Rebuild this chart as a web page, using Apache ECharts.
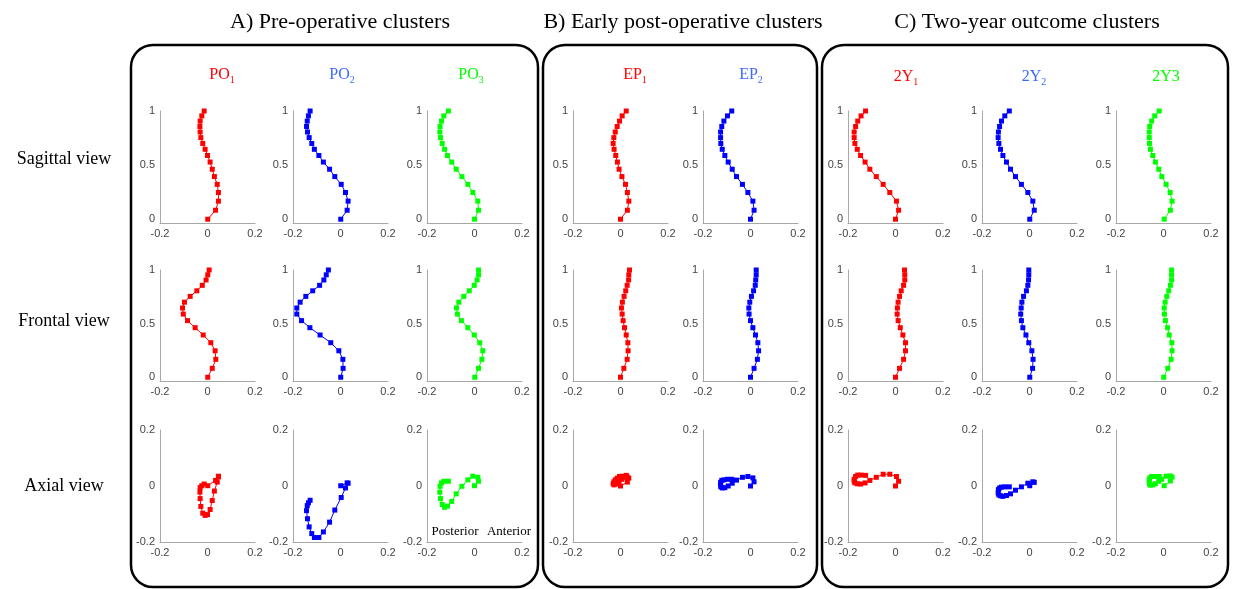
<!DOCTYPE html>
<html>
<head>
<meta charset="utf-8">
<script src="https://cdn.jsdelivr.net/npm/echarts@6/dist/echarts.min.js"></script>
<style>
  html, body { margin: 0; padding: 0; background: #fff; }
  #chart { width: 1236px; height: 589px; }
</style>
</head>
<body>
<div id="chart"></div>
<script>
// height levels of the 17 vertebra points (shared by every curve)
var levels = [0, 0.083, 0.167, 0.247, 0.322, 0.394, 0.462, 0.528, 0.589, 0.646, 0.700, 0.754, 0.806, 0.857, 0.907, 0.955, 1];

// sagittal-view offsets (bottom to top)
var sagPO1 = [0.001, 0.034, 0.046, 0.046, 0.041, 0.029, 0.020, 0.011, 0.000, -0.010, -0.020, -0.028, -0.031, -0.032, -0.031, -0.024, -0.014];
var sagPO2 = [0.001, 0.028, 0.032, 0.021, 0.003, -0.024, -0.046, -0.072, -0.091, -0.110, -0.121, -0.132, -0.139, -0.143, -0.140, -0.135, -0.128];
var sagPO3 = [0.000, 0.017, 0.014, -0.007, -0.028, -0.053, -0.077, -0.096, -0.114, -0.126, -0.136, -0.143, -0.146, -0.145, -0.139, -0.129, -0.110];
var sagEP1 = [0.000, 0.029, 0.035, 0.029, 0.021, 0.006, -0.006, -0.013, -0.020, -0.027, -0.031, -0.028, -0.022, -0.014, -0.004, 0.007, 0.024];
var sagEP2 = [0.000, 0.015, 0.010, -0.011, -0.034, -0.059, -0.077, -0.094, -0.108, -0.119, -0.125, -0.126, -0.126, -0.121, -0.112, -0.097, -0.079];
var sag2Y1 = [0.000, 0.013, 0.004, -0.024, -0.052, -0.081, -0.108, -0.128, -0.147, -0.161, -0.171, -0.174, -0.174, -0.168, -0.159, -0.145, -0.126];
var sag2Y2 = [0.001, 0.020, 0.014, -0.007, -0.034, -0.059, -0.080, -0.097, -0.112, -0.122, -0.129, -0.132, -0.131, -0.126, -0.118, -0.104, -0.085];
var sag2Y3 = [0.003, 0.029, 0.036, 0.028, 0.011, -0.007, -0.020, -0.034, -0.045, -0.055, -0.059, -0.060, -0.060, -0.058, -0.050, -0.037, -0.018];

// frontal-view offsets (bottom to top)
var froPO1 = [0.001, 0.020, 0.035, 0.032, 0.014, -0.018, -0.052, -0.084, -0.102, -0.105, -0.097, -0.073, -0.045, -0.022, -0.006, 0.001, 0.007];
var froPO2 = [0.001, 0.011, 0.010, -0.007, -0.041, -0.086, -0.129, -0.164, -0.184, -0.184, -0.170, -0.146, -0.117, -0.088, -0.070, -0.060, -0.051];
var froPO3 = [0.001, 0.017, 0.031, 0.035, 0.022, -0.001, -0.028, -0.055, -0.072, -0.076, -0.066, -0.045, -0.022, -0.001, 0.011, 0.017, 0.017];
var froEP1 = [0.000, 0.014, 0.028, 0.032, 0.031, 0.024, 0.017, 0.011, 0.007, 0.004, 0.008, 0.015, 0.022, 0.028, 0.034, 0.035, 0.038];
var froEP2 = [0.000, 0.015, 0.029, 0.034, 0.031, 0.021, 0.010, 0.000, -0.006, -0.007, -0.003, 0.004, 0.013, 0.020, 0.022, 0.024, 0.024];
var fro2Y1 = [0.000, 0.017, 0.034, 0.042, 0.042, 0.031, 0.020, 0.011, 0.007, 0.008, 0.011, 0.017, 0.024, 0.034, 0.039, 0.039, 0.038];
var fro2Y2 = [0.001, 0.013, 0.015, 0.010, -0.003, -0.015, -0.028, -0.034, -0.037, -0.035, -0.032, -0.025, -0.013, -0.007, -0.004, -0.003, -0.003];
var fro2Y3 = [0.001, 0.018, 0.032, 0.036, 0.035, 0.024, 0.017, 0.008, 0.004, 0.003, 0.007, 0.014, 0.022, 0.029, 0.034, 0.034, 0.034];

var clusterNames = [['PO', '1'], ['PO', '2'], ['PO', '3'], ['EP', '1'], ['EP', '2'], ['2Y', '1'], ['2Y', '2'], ['2Y3', '']];
var sagittal = [sagPO1, sagPO2, sagPO3, sagEP1, sagEP2, sag2Y1, sag2Y2, sag2Y3];
var frontal = [froPO1, froPO2, froPO3, froEP1, froEP2, fro2Y1, fro2Y2, fro2Y3];
var rowNames = ['Sagittal view', 'Frontal view', 'Axial view'];
var panelTitles = ['A) Pre-operative clusters', 'B) Early post-operative clusters', 'C) Two-year outcome clusters'];

// layout
var RED = '#ff0000', BLUE = '#0000ff', GREEN = '#00ff00';
var lineColors = [RED, BLUE, GREEN, RED, BLUE, RED, BLUE, GREEN];
var labelColors = [RED, '#3d68ff', GREEN, RED, '#3d68ff', RED, '#3d68ff', GREEN];
var colLeft = [160, 293, 427, 573, 703, 848, 982, 1116];
var labelX = [222, 342, 471, 635, 751, 906, 1034, 1166];
var rows = [
  { top: 111, height: 112, min: -0.035, max: 1 },
  { top: 270, height: 111, min: -0.035, max: 1 },
  { top: 430, height: 112, min: -0.2, max: 0.2 }
];

var SERIF = '"Liberation Serif", "Times New Roman", serif';
var SANS = '"Liberation Sans", Arial, sans-serif';

var grids = [], xAxes = [], yAxes = [], series = [];

rows.forEach(function (row, r) {
  colLeft.forEach(function (left, c) {
    var idx = grids.length;
    grids.push({ left: left, top: row.top, width: 95, height: row.height, outerBoundsMode: 'none' });
    xAxes.push({
      gridIndex: idx, type: 'value', min: -0.2, max: 0.2, interval: 0.2,
      splitLine: { show: false },
      axisLine: { onZero: false, lineStyle: { color: '#a8a8a8', width: 1 } },
      axisTick: { show: false },
      axisLabel: { color: '#444', fontSize: 11, fontFamily: SANS, margin: 5, showMinLabel: true, showMaxLabel: true, hideOverlap: false }
    });
    var yAxis = {
      gridIndex: idx, type: 'value', min: row.min, max: row.max,
      splitLine: { show: false },
      axisLine: { onZero: false, lineStyle: { color: '#a8a8a8', width: 1 } },
      axisTick: { show: false },
      axisLabel: { color: '#444', fontSize: 11, fontFamily: SANS, margin: 5, showMinLabel: true, showMaxLabel: true, hideOverlap: false }
    };
    if (r < 2) {
      yAxis.axisLabel.customValues = [0, 0.5, 1];
    } else {
      yAxis.interval = 0.2;
    }
    yAxes.push(yAxis);

    var data;
    if (r === 0) {
      data = sagittal[c].map(function (v, i) { return [v, levels[i]]; });
    } else if (r === 1) {
      data = frontal[c].map(function (v, i) { return [v, levels[i]]; });
    } else {
      data = sagittal[c].map(function (v, i) { return [v, frontal[c][i]]; });
    }
    series.push({
      type: 'line', xAxisIndex: idx, yAxisIndex: idx, data: data,
      symbol: 'rect', symbolSize: 5, showSymbol: true,
      lineStyle: { color: lineColors[c], width: 1 },
      itemStyle: { color: lineColors[c] },
      animation: false, silent: true
    });
  });
});

// texts and panel frames
var graphics = [];
[[131, 407], [543, 274], [822, 406]].forEach(function (b) {
  graphics.push({
    type: 'rect', shape: { x: b[0], y: 45, width: b[1], height: 542, r: 22 },
    style: { fill: 'none', stroke: '#000', lineWidth: 2.5 }, z: 10
  });
});
[340, 683, 1027].forEach(function (x, i) {
  graphics.push({
    type: 'text', x: x, y: 22,
    style: { text: panelTitles[i], fill: '#000', font: '22px ' + SERIF, align: 'center', verticalAlign: 'middle' }
  });
});
[159, 321, 486].forEach(function (y, i) {
  graphics.push({
    type: 'text', x: 64, y: y,
    style: { text: rowNames[i], fill: '#000', font: '18px ' + SERIF, align: 'center', verticalAlign: 'middle' }
  });
});
clusterNames.forEach(function (n, c) {
  graphics.push({
    type: 'text', x: labelX[c], y: c >= 5 ? 77 : 75,
    style: {
      text: '{m|' + n[0] + '}' + (n[1] ? '{s|' + n[1] + '}' : ''),
      align: 'center', verticalAlign: 'middle',
      rich: {
        m: { fontSize: 16, fontFamily: SERIF, fill: labelColors[c] },
        s: { fontSize: 10, fontFamily: SERIF, fill: labelColors[c], padding: [10, 0, 0, 0] }
      }
    }
  });
});
graphics.push({
  type: 'text', x: 455, y: 532,
  style: { text: 'Posterior', fill: '#000', font: '13px ' + SERIF, align: 'center', verticalAlign: 'middle' }
});
graphics.push({
  type: 'text', x: 509, y: 532,
  style: { text: 'Anterior', fill: '#000', font: '13px ' + SERIF, align: 'center', verticalAlign: 'middle' }
});

var myChart = echarts.init(document.getElementById('chart'), null, { renderer: 'canvas' });
var option = {
  backgroundColor: '#fff',
  animation: false,
  grid: grids,
  xAxis: xAxes,
  yAxis: yAxes,
  series: series,
  graphic: graphics
};
myChart.setOption(option);
</script>
</body>
</html>
